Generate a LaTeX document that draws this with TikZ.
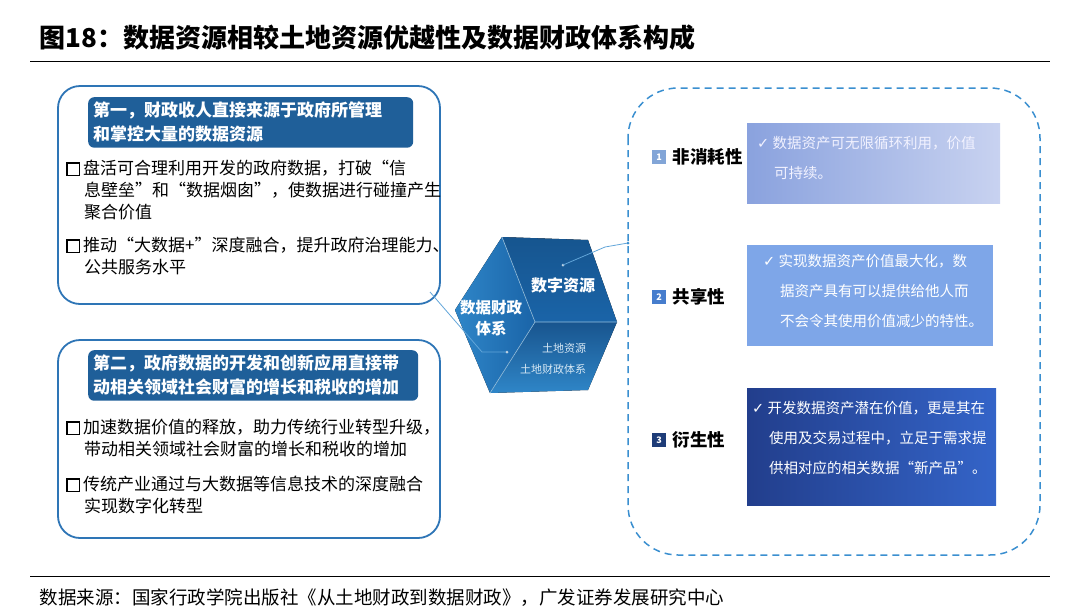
\documentclass[tikz,border=0pt]{standalone}
\usepackage{fontspec}
\setmainfont{Noto Sans CJK SC}
\newfontfamily\dv{DejaVu Sans}
\usetikzlibrary{calc,shadings}
\definecolor{bord}{HTML}{2E75B6}
\definecolor{hdr}{HTML}{1F5F99}
\definecolor{cubeA}{HTML}{1A64A8}
\definecolor{cubeB}{HTML}{2F86C8}
\definecolor{cubeC}{HTML}{1B5E9E}
\definecolor{dashc}{HTML}{3A8FD0}
\definecolor{nA}{RGB}{130,165,215}
\definecolor{nB}{RGB}{70,125,205}
\definecolor{nC}{RGB}{30,60,120}
\definecolor{rA1}{RGB}{138,162,222}
\definecolor{rA2}{RGB}{200,210,240}
\definecolor{rB}{RGB}{126,166,232}
\definecolor{rC1}{RGB}{34,62,140}
\definecolor{rC2}{RGB}{52,100,200}
\newcommand\mysq{{\setlength\fboxsep{0pt}\setlength\fboxrule{1.6pt}\fbox{\rule{0pt}{11pt}\hspace{11pt}}}\,}
\newcommand\ck{{\dv ✓}\ }
\tikzset{
  outer/.style={draw=bord,line width=1.8pt,rounded corners=22pt,fill=white},
  hdrbox/.style={fill=hdr,rounded corners=6pt,text=white,font=\fontsize{17}{24}\selectfont\bfseries,align=left,anchor=north west,inner sep=5pt},
  bul/.style={anchor=north west,align=left,font=\fontsize{17}{22}\selectfont,inner sep=0pt},
  num/.style={minimum size=14pt,inner sep=0pt,text=white,font=\fontsize{9}{9}\selectfont\bfseries},
  lab/.style={anchor=west,font=\fontsize{17.5}{17.5}\selectfont\bfseries},
  rtxt/.style={anchor=north west,align=left,text=white,font=\fontsize{14.5}{30}\selectfont,inner sep=0pt},
  conn/.style={draw=dashc!80!white,line width=0.8pt}
}
\begin{document}
\begin{tikzpicture}[x=1pt,y=-1pt]
\useasboundingbox (0,0) rectangle (1080,614);
% title
\node[anchor=west,font=\fontsize{26}{26}\selectfont\bfseries] (title) at (36,38) {图18：数据资源相较土地资源优越性及数据财政体系构成};
\draw[line width=1pt] (30,61) -- (1050,61);
% left box 1
\draw[outer] (58,86) rectangle (440,304);
\node[hdrbox,minimum width=325pt,text width=315pt] (h1) at (88,97) {第一，财政收人直接来源于政府所管理\\和掌控大量的数据资源};
\node[bul] (b1) at (66,160) {\mysq 盘活可合理利用开发的政府数据，打破“信\\\hspace{18pt}息壁垒"和“数据烟囱"，使数据进行碰撞产生\\\hspace{18pt}聚合价值};
\node[bul] (b2) at (66,237) {\mysq 推动“大数据+"深度融合，提升政府治理能力、\\\hspace{18pt}公共服务水平};
% left box 2
\draw[outer] (58,340) rectangle (440,538);
\node[hdrbox,minimum width=330pt,text width=320pt] (h2) at (88,350) {第二，政府数据的开发和创新应用直接带\\动相关领域社会财富的增长和税收的增加};
\node[bul] (b3) at (66,419) {\mysq 加速数据价值的释放，助力传统行业转型升级，\\\hspace{18pt}带动相关领域社会财富的增长和税收的增加};
\node[bul] (b4) at (66,476) {\mysq 传统产业通过与大数据等信息技术的深度融合\\\hspace{18pt}实现数字化转型};
% dashed box
\draw[draw=dashc,line width=1.5pt,dash pattern=on 7pt off 5pt,rounded corners=50pt] (628,88) rectangle (1040,555);
\coordinate (dl) at (628,243);
% cube
\coordinate (A) at (502,237); \coordinate (B) at (588,240); \coordinate (C) at (617,322);
\coordinate (D) at (588,390); \coordinate (E) at (490,393); \coordinate (F) at (455,310);
\coordinate (O) at (535,322);
\fill[top color=cubeA!85!black,bottom color=cubeA] (A)--(B)--(C)--(O)--cycle;
\fill[left color=cubeB,right color=cubeA] (F)--(A)--(O)--(E)--cycle;
\fill[top color=cubeC!90!black,bottom color=cubeB] (O)--(C)--(D)--(E)--cycle;
\draw[white!50!cubeB,line width=0.6pt] (A)--(O)--(C) (O)--(E);
\node[text=white,font=\fontsize{16}{16}\selectfont\bfseries] (sz) at (563,285) {数字资源};
\node[text=white,align=center,font=\fontsize{15.5}{21}\selectfont\bfseries] (cz) at (491,318) {数据财政\\体系};
\node[text=white!80!cubeB,font=\fontsize{11}{11}\selectfont] (td1) at (564,348) {土地资源};
\node[text=white!80!cubeB,font=\fontsize{11}{11}\selectfont] (td2) at (553,369) {土地财政体系};
\coordinate (c1) at (507,352);
\coordinate (c2) at (563,265);
\draw[conn] (430,292) -- (482,352) -- (c1);
\fill[white!70!hdr] (c1) circle (1.5pt) (c2) circle (1.5pt);
\draw[conn] (c2) -- (605,247) -- (dl);
\fill[dashc] (dl) circle (1.5pt);
% numbers and labels
\node[num,fill=nA] (n1) at (659,157) {1};
\node[num,fill=nB] (n2) at (659,297) {2};
\node[num,fill=nC] (n3) at (659,440) {3};
\node[lab] (l1) at (n1.east) {\,非消耗性};
\node[lab] (l2) at (n2.east) {\,共享性};
\node[lab] (l3) at (n3.east) {\,衍生性};
% right boxes
\shade[left color=rA1,right color=rA2] (747,123) rectangle (1000,203);
\fill[rB] (747,245) rectangle (993,346);
\shade[left color=rC1,right color=rC2] (747,388) rectangle (996,505);
\node[rtxt,text=white!95!blue] (r1) at (757,136) {\ck 数据资产可无限循环利用，价值\\\hspace{17pt}可持续。};
\node[rtxt] (r2) at (763,254) {\ck 实现数据资产价值最大化，数\\\hspace{17pt}据资产具有可以提供给他人而\\\hspace{17pt}不会令其使用价值减少的特性。};
\node[rtxt] (r3) at (752,401) {\ck 开发数据资产潜在价值，更是其在\\\hspace{17pt}使用及交易过程中，立足于需求提\\\hspace{17pt}供相对应的相关数据“新产品”。};
% source
\draw[line width=0.8pt] (30,576) -- (1050,576);
\node[anchor=west,font=\fontsize{18.5}{18.5}\selectfont] (src) at (36,598) {数据来源：国家行政学院出版社《从土地财政到数据财政》，广发证券发展研究中心};
\end{tikzpicture}
\end{document}
